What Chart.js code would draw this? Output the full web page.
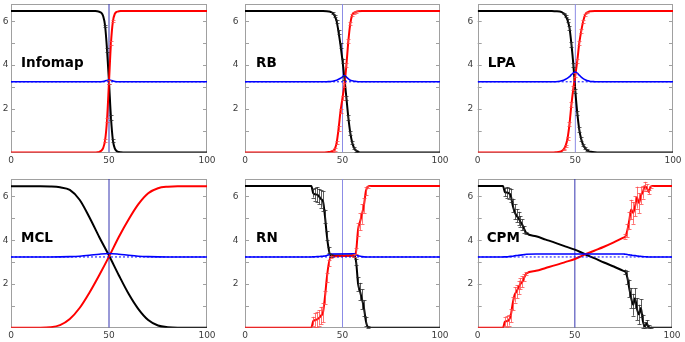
<!DOCTYPE html>
<html><head><meta charset="utf-8">
<script src="https://cdn.jsdelivr.net/npm/chart.js@4.4.1/dist/chart.umd.min.js"></script>
<style>
html,body{margin:0;padding:0;background:#fff;}
#wrap{position:relative;width:685px;height:342px;overflow:hidden;background:#fff;}
#wrap canvas{position:absolute;left:0;top:0;}
</style></head><body><div id="wrap">
<canvas id="c0" width="685" height="342"></canvas>
<canvas id="c1" width="685" height="342"></canvas>
<canvas id="c2" width="685" height="342"></canvas>
<canvas id="c3" width="685" height="342"></canvas>
<canvas id="c4" width="685" height="342"></canvas>
<canvas id="c5" width="685" height="342"></canvas>
</div>
<script>
// ---------- data ----------
const panelNames = ['Infomap', 'RB', 'LPA', 'MCL', 'RN', 'CPM'];
const yTickLabels = [2, 4, 6];
const vlineX = [50, 50];
const vlineY = [0, 6.8];
const baseX = [0, 100];
const baseY = [3.235, 3.235];

const infomapX     = [0, 40, 43, 44, 45, 46, 47, 48, 49, 50, 51, 52, 53, 54, 55, 56, 58, 60, 100];
const infomapBlack = [6.47, 6.47, 6.47, 6.46, 6.44, 6.4, 6.25, 5.8, 4.7, 3.24, 1.6, 0.55, 0.18, 0.06, 0.02, 0.01, 0, 0, 0];
const infomapRed   = [0, 0, 0, 0.01, 0.03, 0.08, 0.2, 0.55, 1.5, 3.24, 5.0, 6.0, 6.35, 6.44, 6.46, 6.47, 6.47, 6.47, 6.47];
const infomapBlue  = [3.235, 3.235, 3.235, 3.235, 3.235, 3.24, 3.25, 3.27, 3.3, 3.33, 3.3, 3.27, 3.25, 3.24, 3.235, 3.235, 3.235, 3.235, 3.235];
const infomapErr   = [0, 0, 0, 0, 0, 0, 0, 0.05, 0.1, 0.1, 0.1, 0.05, 0, 0, 0, 0, 0, 0, 0];

const rbX     = [0, 40, 42, 43, 44, 45, 46, 47, 48, 49, 50, 51, 52, 53, 54, 55, 56, 57, 58, 60, 100];
const rbBlack = [6.47, 6.47, 6.46, 6.45, 6.43, 6.38, 6.25, 6.0, 5.5, 4.9, 4.2, 3.4, 2.5, 1.6, 0.9, 0.45, 0.2, 0.08, 0.03, 0, 0];
const rbRed   = [0, 0, 0.01, 0.02, 0.04, 0.07, 0.15, 0.45, 1.1, 1.9, 2.5, 3.1, 4.0, 5.1, 5.9, 6.3, 6.4, 6.44, 6.46, 6.47, 6.47];
const rbBlue  = [3.235, 3.235, 3.24, 3.245, 3.25, 3.26, 3.28, 3.31, 3.35, 3.4, 3.46, 3.52, 3.45, 3.37, 3.31, 3.28, 3.26, 3.25, 3.24, 3.235, 3.235];
const rbErr   = [0, 0, 0, 0, 0, 0.04, 0.06, 0.08, 0.1, 0.1, 0.1, 0.1, 0.1, 0.1, 0.08, 0.06, 0.05, 0.04, 0, 0, 0];

const lpaX     = [0, 38, 40, 42, 43, 44, 45, 46, 47, 48, 49, 50, 51, 52, 53, 54, 55, 56, 57, 58, 60, 62, 100];
const lpaBlack = [6.47, 6.47, 6.46, 6.45, 6.42, 6.36, 6.25, 6.05, 5.7, 4.95, 4.0, 2.8, 1.8, 1.05, 0.62, 0.35, 0.2, 0.1, 0.05, 0.03, 0.01, 0, 0];
const lpaRed   = [0, 0, 0.01, 0.03, 0.06, 0.14, 0.3, 0.65, 1.3, 2.2, 2.95, 3.55, 4.2, 5.0, 5.55, 6.0, 6.3, 6.41, 6.45, 6.46, 6.47, 6.47, 6.47];
const lpaBlue  = [3.235, 3.235, 3.24, 3.26, 3.28, 3.31, 3.35, 3.4, 3.47, 3.56, 3.64, 3.68, 3.63, 3.54, 3.45, 3.38, 3.33, 3.29, 3.27, 3.25, 3.24, 3.235, 3.235];
const lpaErr   = [0, 0, 0, 0, 0, 0.04, 0.06, 0.08, 0.1, 0.1, 0.1, 0.1, 0.1, 0.1, 0.08, 0.06, 0.05, 0.04, 0, 0, 0, 0, 0];

const mclX     = [0, 15, 20, 25, 30, 35, 40, 45, 50, 55, 60, 65, 70, 75, 80, 85, 100];
const mclBlack = [6.47, 6.47, 6.46, 6.42, 6.3, 5.85, 5.05, 4.15, 3.3, 2.4, 1.55, 0.85, 0.35, 0.1, 0.02, 0, 0];
const mclRed   = [0, 0, 0.02, 0.12, 0.4, 0.9, 1.6, 2.4, 3.25, 4.15, 4.95, 5.65, 6.15, 6.38, 6.45, 6.47, 6.47];
const mclBlue  = [3.235, 3.235, 3.235, 3.24, 3.25, 3.27, 3.31, 3.36, 3.39, 3.36, 3.31, 3.27, 3.25, 3.24, 3.235, 3.235, 3.235];
const mclErr   = [0, 0, 0, 0, 0, 0, 0, 0, 0, 0, 0, 0, 0, 0, 0, 0, 0];

const rnX        = [0, 34, 35, 36, 37, 38, 39, 40, 41, 42, 43, 44, 56, 57, 58, 59, 60, 61, 62, 63, 64, 100];
const rnBlack    = [6.48, 6.48, 6.15, 6.1, 6.08, 6.0, 5.88, 5.78, 5.1, 4.2, 3.55, 3.3, 3.3, 3.0, 2.0, 1.65, 1.3, 0.9, 0.3, 0.03, 0, 0];
const rnRed      = [0, 0, 0.3, 0.35, 0.38, 0.45, 0.55, 0.7, 1.4, 2.3, 2.95, 3.25, 3.3, 3.5, 4.5, 4.85, 5.2, 5.6, 6.25, 6.45, 6.48, 6.48];
const rnBlue     = [3.235, 3.235, 3.24, 3.245, 3.25, 3.255, 3.26, 3.27, 3.28, 3.3, 3.34, 3.37, 3.38, 3.34, 3.29, 3.27, 3.25, 3.24, 3.235, 3.235, 3.235, 3.235];
const rnErrBlack = [0, 0, 0.2, 0.3, 0.35, 0.35, 0.4, 0.45, 0.3, 0.2, 0.15, 0.05, 0.05, 0.15, 0.3, 0.4, 0.45, 0.35, 0.2, 0.05, 0, 0];
const rnErrRed   = [0, 0, 0.2, 0.3, 0.35, 0.35, 0.4, 0.45, 0.3, 0.2, 0.15, 0.05, 0.05, 0.15, 0.3, 0.4, 0.45, 0.35, 0.2, 0.05, 0, 0];

const cpmX        = [0, 13, 14, 15, 16, 17, 18, 19, 20, 21, 22, 23, 24, 25, 30, 35, 40, 45, 50, 55, 60, 65, 70, 75, 76, 77, 78, 79, 80, 81, 82, 83, 84, 85, 86, 87, 88, 89, 90, 100];
const cpmBlack    = [6.48, 6.48, 6.2, 6.18, 6.15, 6.05, 5.6, 5.3, 5.12, 5.0, 4.85, 4.7, 4.5, 4.33, 4.18, 4.03, 3.88, 3.72, 3.57, 3.37, 3.18, 2.98, 2.8, 2.6, 2.56, 2.3, 1.8, 1.35, 1.05, 1.35, 0.85, 0.6, 0.9, 0.3, 0.05, 0.2, 0.02, 0, 0, 0];
const cpmRed      = [0, 0, 0.27, 0.3, 0.35, 0.55, 1.1, 1.5, 1.65, 1.85, 2.0, 2.1, 2.3, 2.48, 2.6, 2.73, 2.86, 3.0, 3.14, 3.34, 3.52, 3.7, 3.9, 4.12, 4.17, 4.45, 4.9, 5.4, 5.25, 5.55, 5.95, 5.7, 6.05, 6.2, 6.47, 6.4, 6.2, 6.45, 6.48, 6.48];
const cpmBlue     = [3.235, 3.235, 3.24, 3.24, 3.25, 3.26, 3.27, 3.29, 3.3, 3.31, 3.32, 3.33, 3.34, 3.36, 3.37, 3.37, 3.37, 3.37, 3.37, 3.37, 3.37, 3.37, 3.37, 3.37, 3.36, 3.35, 3.33, 3.32, 3.3, 3.3, 3.28, 3.27, 3.26, 3.25, 3.245, 3.24, 3.235, 3.235, 3.235, 3.235];
const cpmErrBlack = [0, 0, 0.2, 0.25, 0.25, 0.3, 0.3, 0.35, 0.3, 0.3, 0.25, 0.25, 0.15, 0.05, 0, 0, 0, 0, 0, 0, 0, 0, 0, 0, 0.1, 0.3, 0.4, 0.45, 0.5, 0.45, 0.5, 0.45, 0.4, 0.3, 0.2, 0.15, 0.1, 0.05, 0, 0];
const cpmErrRed   = [0, 0, 0.2, 0.25, 0.25, 0.3, 0.3, 0.35, 0.3, 0.3, 0.25, 0.25, 0.15, 0.05, 0, 0, 0, 0, 0, 0, 0, 0, 0, 0, 0.1, 0.3, 0.4, 0.45, 0.5, 0.45, 0.5, 0.45, 0.4, 0.3, 0.2, 0.15, 0.1, 0.05, 0, 0];

// ---------- layout / style ----------
const W = 685, H = 342, xH = 14;
const FONT = "'DejaVu Sans', 'Liberation Sans', sans-serif";
const panels = [
  {name: panelNames[0], x: infomapX, black: infomapBlack, red: infomapRed, blue: infomapBlue, eb: infomapErr, er: infomapErr,
   L: 11, R: 207, T: 3.9, B: 152.5, yW: 11, pad: 2.5, lx: 21, ly: 66.7, vc: '#3535b0'},
  {name: panelNames[1], x: rbX, black: rbBlack, red: rbRed, blue: rbBlue, eb: rbErr, er: rbErr,
   L: 245, R: 440, T: 3.9, B: 152.5, yW: 16, pad: 6.5, lx: 256, ly: 66.7, vc: '#8c8ce6'},
  {name: panelNames[2], x: lpaX, black: lpaBlack, red: lpaRed, blue: lpaBlue, eb: lpaErr, er: lpaErr,
   L: 477.7, R: 673, T: 3.9, B: 152.5, yW: 16, pad: 4.5, lx: 487.7, ly: 66.7, vc: '#8c8ce6'},
  {name: panelNames[3], x: mclX, black: mclBlack, red: mclRed, blue: mclBlue, eb: mclErr, er: mclErr,
   L: 11, R: 207, T: 179, B: 327.7, yW: 11, pad: 2.5, lx: 21, ly: 242.3, vc: '#3535b0'},
  {name: panelNames[4], x: rnX, black: rnBlack, red: rnRed, blue: rnBlue, eb: rnErrBlack, er: rnErrRed,
   L: 245, R: 440, T: 179, B: 327.7, yW: 16, pad: 6.5, lx: 256, ly: 242.3, vc: '#8c8ce6'},
  {name: panelNames[5], x: cpmX, black: cpmBlack, red: cpmRed, blue: cpmBlue, eb: cpmErrBlack, er: cpmErrRed,
   L: 477.7, R: 672, T: 179, B: 327.7, yW: 16, pad: 4.5, lx: 486.7, ly: 242.3, vc: '#3535b0'}
];

const pts = (xs, ys) => xs.map((x, i) => ({x: x, y: ys[i]}));

function makePlugin(p) {
  return {
    id: 'panelDeco',
    beforeDatasetsDraw(chart) {
      const {ctx, chartArea: a} = chart;
      ctx.save();
      ctx.strokeStyle = '#a0a0a0';
      ctx.lineWidth = 1;
      ctx.strokeRect(Math.round(a.left) + 0.5, Math.round(a.top) + 0.5,
                     Math.round(a.right) - Math.round(a.left) - 1, Math.round(a.bottom) - Math.round(a.top) - 1);
      const y = chart.scales.y;
      for (const t of y.ticks) {
        if (t.value === 0) continue;
        const py = Math.round(y.getPixelForValue(t.value)) + 0.5;
        ctx.beginPath();
        ctx.moveTo(a.left, py); ctx.lineTo(a.left + 4, py);
        ctx.moveTo(a.right - 4, py); ctx.lineTo(a.right, py);
        ctx.stroke();
      }
      ctx.restore();
    },
    afterDatasetsDraw(chart) {
      const {ctx} = chart;
      const xs = chart.scales.x, ys = chart.scales.y;
      ctx.save();
      ctx.lineWidth = 1;
      const drawErr = (vals, errs, color) => {
        ctx.strokeStyle = color;
        ctx.beginPath();
        for (let i = 0; i < p.x.length; i++) {
          const e = errs[i];
          if (!e) continue;
          const px = Math.round(xs.getPixelForValue(p.x[i])) + 0.5;
          const y1 = ys.getPixelForValue(Math.max(0, vals[i] - e));
          const y2 = ys.getPixelForValue(vals[i] + e);
          ctx.moveTo(px, y1); ctx.lineTo(px, y2);
          ctx.moveTo(px - 2, Math.round(y1) + 0.5); ctx.lineTo(px + 2, Math.round(y1) + 0.5);
          ctx.moveTo(px - 2, Math.round(y2) + 0.5); ctx.lineTo(px + 2, Math.round(y2) + 0.5);
        }
        ctx.stroke();
      };
      drawErr(p.black, p.eb, 'rgba(40,40,40,0.75)');
      drawErr(p.red, p.er, 'rgba(255,70,70,0.75)');
      ctx.fillStyle = '#000';
      ctx.font = 'bold 13.5px ' + FONT;
      ctx.textAlign = 'left';
      ctx.textBaseline = 'alphabetic';
      ctx.fillText(p.name, p.lx, p.ly);
      ctx.restore();
    }
  };
}

panels.forEach((p, k) => {
  const ctx = document.getElementById('c' + k).getContext('2d');
  new Chart(ctx, {
    type: 'line',
    data: {
      datasets: [
        {data: pts(p.x, p.blue), borderColor: '#0000ff', borderWidth: 1.6, order: 0, cubicInterpolationMode: 'monotone'},
        {data: pts(baseX, baseY), borderColor: '#0000ff', borderWidth: 1, borderDash: [2, 2], order: 1},
        {data: pts(p.x, p.red), borderColor: '#ff0000', borderWidth: 2, order: 2, cubicInterpolationMode: 'monotone'},
        {data: pts(p.x, p.black), borderColor: '#000000', borderWidth: 2, order: 3, cubicInterpolationMode: 'monotone'},
        {data: pts(vlineX, vlineY), borderColor: p.vc, borderWidth: 1, order: 4}
      ]
    },
    options: {
      responsive: false,
      animation: false,
      events: [],
      elements: {point: {radius: 0}, line: {tension: 0, fill: false}},
      plugins: {legend: {display: false}, tooltip: {enabled: false}},
      layout: {padding: {left: p.L - p.yW, right: W - p.R, top: p.T, bottom: H - p.B - xH}},
      scales: {
        x: {
          type: 'linear', min: 0, max: 100,
          grid: {display: false, drawTicks: false}, border: {display: false},
          ticks: {stepSize: 50, autoSkip: false, maxRotation: 0, padding: 2.5, color: '#3c3c3c',
                  font: {family: FONT, size: 9}},
          afterFit: s => { s.height = xH; s.paddingLeft = 0; s.paddingRight = 0; }
        },
        y: {
          type: 'linear', min: 0, max: 6.8,
          grid: {display: false, drawTicks: false}, border: {display: false},
          ticks: {stepSize: 1, includeBounds: false, padding: p.pad, color: '#3c3c3c',
                  font: {family: FONT, size: 9},
                  callback: v => yTickLabels.includes(v) ? String(v) : ''},
          afterFit: s => { s.width = p.yW; s.paddingTop = 0; s.paddingBottom = 0; }
        }
      }
    },
    plugins: [makePlugin(p)]
  });
});
</script>
</body></html>
